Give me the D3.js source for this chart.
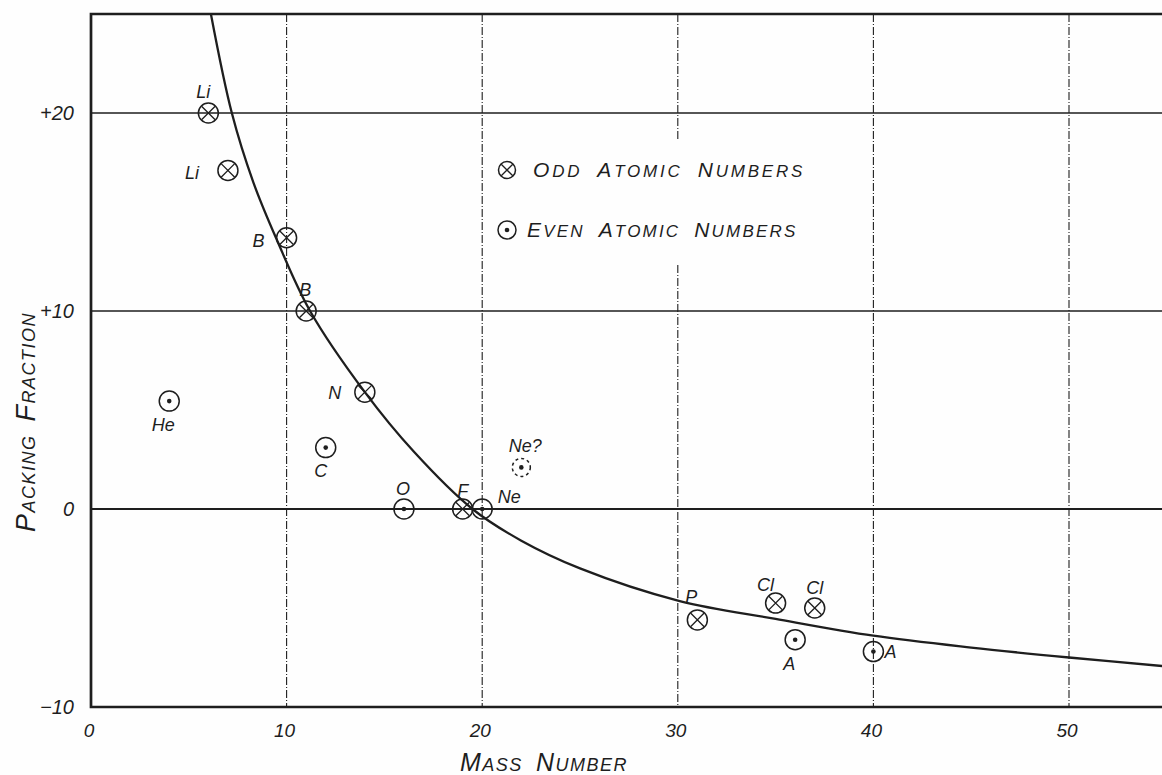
<!DOCTYPE html>
<html>
<head>
<meta charset="utf-8">
<script src="https://cdn.jsdelivr.net/npm/d3@7/dist/d3.min.js"></script>
<style>
  html, body { margin: 0; padding: 0; background: #fefefe; }
  svg { display: block; }
  text { font-family: "Liberation Sans", "DejaVu Sans", sans-serif; font-style: italic; fill: #1e1e1e; }
</style>
</head>
<body>
<svg id="chart" width="1162" height="775"></svg>
<script>
// ---- data ----
const oddMass   = [6, 7, 10, 11, 14, 19, 31, 35, 37];
const oddValue  = [20, 17.1, 13.7, 10, 5.9, 0, -5.6, -4.75, -5.0];
const oddLabel  = ["Li", "Li", "B", "B", "N", "F", "P", "Cl", "Cl"];

const evenMass  = [4, 12, 16, 20, 36, 40];
const evenValue = [5.45, 3.1, 0, 0, -6.6, -7.2];
const evenLabel = ["He", "C", "O", "Ne", "A", "A"];

const doubtMass  = [22];
const doubtValue = [2.1];
const doubtLabel = ["Ne?"];

const curveMass  = [6.13, 7.2, 8.3, 9.5, 11.2, 14, 16.5, 19.5, 22, 25, 30.1, 35, 40, 45, 50, 55];
const curveValue = [25, 20, 16.5, 13.6, 10, 5.9, 2.9, 0, -1.6, -3.0, -4.65, -5.55, -6.4, -7.0, -7.5, -7.95];

const xTicks = [0, 10, 20, 30, 40, 50];
const yTicks = [-10, 0, 10, 20];
const yTickLabels = ["\u221210", "0", "+10", "+20"];

// label placement offsets (layout only)
const oddLabelOffset  = [[-5,-15], [-36,9], [-28,9], [-1,-15], [-30,7], [0,-12], [-6,-17], [-10,-12], [0,-14]];
const evenLabelOffset = [[-6,30], [-5,29], [-1,-14], [27,-6], [-6,30], [17,6]];
const doubtLabelOffset = [[4,-15]];

// ---- layout ----
const svg = d3.select("#chart");
const W = 1162, H = 775;
const padL = 91, padT = 14, padB = 707;
const x = d3.scaleLinear().domain([0, 50]).range([padL, 1069]);
const y = d3.scaleLinear().domain([-10, 25]).range([padB, padT]);
const ink = "#1e1e1e";

svg.append("defs").append("clipPath").attr("id", "plotclip")
  .append("rect").attr("x", padL).attr("y", padT).attr("width", W - padL).attr("height", padB - padT);

const grid = svg.append("g");
// horizontal grid lines (solid)
grid.selectAll("line.h").data(yTicks.filter(d => d > -10)).join("line")
  .attr("x1", padL).attr("x2", W)
  .attr("y1", d => y(d)).attr("y2", d => y(d))
  .attr("stroke", ink).attr("stroke-width", d => d === 0 ? 2.2 : 1.3);

// vertical grid lines (dashed)
const legendGap = [140, 265];
xTicks.filter(d => d > 0).forEach(d => {
  const segs = d === 30 ? [[padT, legendGap[0]], [legendGap[1], padB]] : [[padT, padB]];
  segs.forEach(s => {
    grid.append("line")
      .attr("x1", x(d)).attr("x2", x(d)).attr("y1", s[0]).attr("y2", s[1])
      .attr("stroke", ink).attr("stroke-width", 1.1)
      .attr("stroke-dasharray", "8,2,1,2");
  });
});

// frame: left, top, bottom
svg.append("path")
  .attr("d", `M${W},${padT}H${padL}V${padB}H${W}`)
  .attr("fill", "none").attr("stroke", ink).attr("stroke-width", 2.7);

// curve
const line = d3.line().x(d => x(d[0])).y(d => y(d[1])).curve(d3.curveCatmullRom.alpha(0.5));
svg.append("path")
  .datum(curveMass.map((m, i) => [m, curveValue[i]]))
  .attr("clip-path", "url(#plotclip)")
  .attr("d", line)
  .attr("fill", "none").attr("stroke", ink).attr("stroke-width", 2.3);

// markers
function oddMarker(g, cx, cy, r) {
  g.append("circle").attr("cx", cx).attr("cy", cy).attr("r", r)
    .attr("fill", "none").attr("stroke", ink).attr("stroke-width", 1.5);
  const k = r * 0.68;
  g.append("path")
    .attr("d", `M${cx-k},${cy-k}L${cx+k},${cy+k}M${cx-k},${cy+k}L${cx+k},${cy-k}`)
    .attr("stroke", ink).attr("stroke-width", 1.3);
}
function evenMarker(g, cx, cy, r, dashed) {
  g.append("circle").attr("cx", cx).attr("cy", cy).attr("r", r)
    .attr("fill", "none").attr("stroke", ink).attr("stroke-width", 1.5)
    .attr("stroke-dasharray", dashed ? "3,3" : null);
  g.append("circle").attr("cx", cx).attr("cy", cy).attr("r", 2.3).attr("fill", ink);
}

const marks = svg.append("g");
const labels = svg.append("g").attr("font-size", 18).attr("text-anchor", "middle");

oddMass.forEach((m, i) => {
  oddMarker(marks, x(m), y(oddValue[i]), 10);
  labels.append("text").attr("x", x(m) + oddLabelOffset[i][0]).attr("y", y(oddValue[i]) + oddLabelOffset[i][1]).text(oddLabel[i]);
});
evenMass.forEach((m, i) => {
  evenMarker(marks, x(m), y(evenValue[i]), 10, false);
  labels.append("text").attr("x", x(m) + evenLabelOffset[i][0]).attr("y", y(evenValue[i]) + evenLabelOffset[i][1]).text(evenLabel[i]);
});
doubtMass.forEach((m, i) => {
  evenMarker(marks, x(m), y(doubtValue[i]), 9, true);
  labels.append("text").attr("x", x(m) + doubtLabelOffset[i][0]).attr("y", y(doubtValue[i]) + doubtLabelOffset[i][1]).text(doubtLabel[i]);
});

// y tick labels
svg.append("g").attr("font-size", 20).attr("text-anchor", "end")
  .selectAll("text").data(yTicks).join("text")
  .attr("x", padL - 17).attr("y", d => y(d) + 7)
  .text((d, i) => yTickLabels[i]);

// x tick labels
svg.append("g").attr("font-size", 19).attr("text-anchor", "middle")
  .selectAll("text").data(xTicks).join("text")
  .attr("x", d => x(d) - 2).attr("y", 737)
  .text(d => d);

// small-caps helper
function smallCaps(sel, words, big, small) {
  words.forEach((w, wi) => {
    if (wi > 0) sel.append("tspan").attr("font-size", small).text("\u00a0\u00a0");
    sel.append("tspan").attr("font-size", big).text(w[0]);
    sel.append("tspan").attr("font-size", small).text(w.slice(1));
  });
}

// axis titles
const xt = svg.append("text").attr("x", 544).attr("y", 771).attr("text-anchor", "middle")
  .attr("letter-spacing", 1.5);
smallCaps(xt, ["MASS", "NUMBER"], 25, 18);

const yt = svg.append("text").attr("transform", "translate(35,422) rotate(-90)").attr("text-anchor", "middle")
  .attr("letter-spacing", 1.5);
smallCaps(yt, ["PACKING", "FRACTION"], 27, 18);

// legend
oddMarker(svg, 507, 170, 8.5);
evenMarker(svg, 507, 230, 9, false);
const l1 = svg.append("text").attr("x", 533).attr("y", 177).attr("letter-spacing", 2.8);
smallCaps(l1, ["ODD", "ATOMIC", "NUMBERS"], 21, 17);
const l2 = svg.append("text").attr("x", 527).attr("y", 237).attr("letter-spacing", 2.2);
smallCaps(l2, ["EVEN", "ATOMIC", "NUMBERS"], 21, 17);
</script>
</body>
</html>
